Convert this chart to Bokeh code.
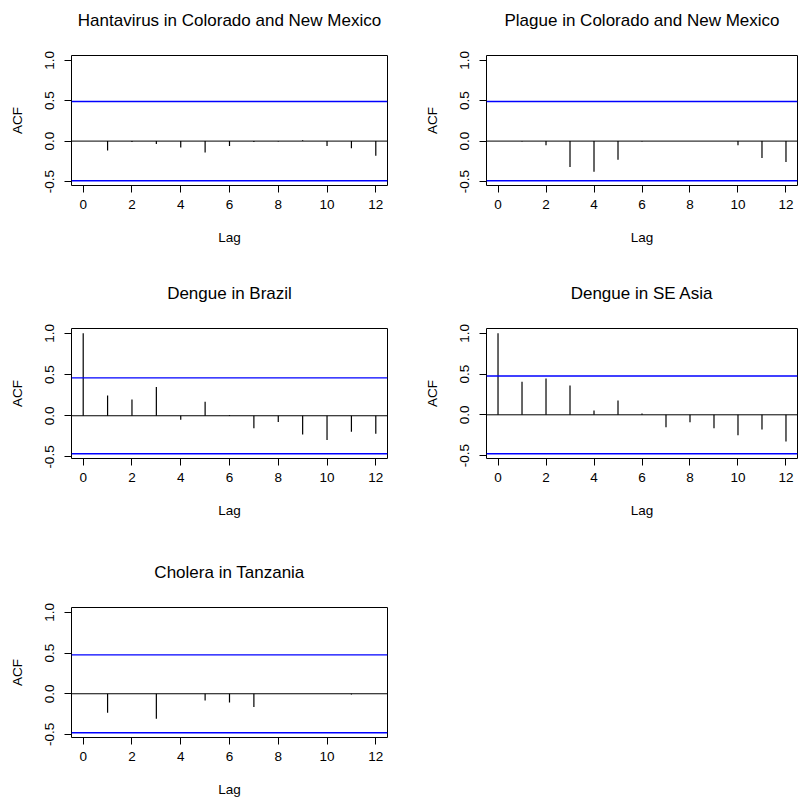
from bokeh.plotting import figure
from bokeh.layouts import gridplot
from bokeh.models import Span, FixedTicker, Range1d, Title
from bokeh.embed import file_html
from bokeh.resources import INLINE

# ---------------- data ----------------
titles = ["Hantavirus in Colorado and New Mexico", "Plague in Colorado and New Mexico",
          "Dengue in Brazil", "Dengue in SE Asia", "Cholera in Tanzania"]

hanta_lags = [1, 2, 3, 4, 5, 6, 7, 8, 9, 10, 11, 12]
hanta_acf = [-0.115, -0.01, -0.035, -0.08, -0.14, -0.06, -0.01, -0.005, 0.01, -0.06, -0.09, -0.18]
hanta_clim = 0.49

plague_lags = [1, 2, 3, 4, 5, 6, 7, 8, 9, 10, 11, 12]
plague_acf = [-0.005, -0.05, -0.32, -0.38, -0.23, -0.005, 0.0, 0.0, 0.0, -0.05, -0.21, -0.26]
plague_clim = 0.49

brazil_lags = [0, 1, 2, 3, 4, 5, 6, 7, 8, 9, 10, 11, 12]
brazil_acf = [1.0, 0.246, 0.198, 0.35, -0.048, 0.17, 0.008, -0.153, -0.077, -0.226, -0.294, -0.194, -0.218]
brazil_clim = 0.46

asia_lags = [0, 1, 2, 3, 4, 5, 6, 7, 8, 9, 10, 11, 12]
asia_acf = [1.0, 0.406, 0.447, 0.36, 0.053, 0.176, 0.016, -0.152, -0.09, -0.164, -0.25, -0.18, -0.328]
asia_clim = 0.477

cholera_lags = [1, 2, 3, 4, 5, 6, 7, 8, 9, 10, 11, 12]
cholera_acf = [-0.234, 0.0, -0.308, 0.0, -0.082, -0.107, -0.164, 0.0, 0.0, 0.0, -0.01, 0.0]
cholera_clim = 0.478

max_lag = 12
acf_lag0 = 1.0  # ACF at lag 0 is always 1 and sets the top of the y scale

x_ticks = [0, 2, 4, 6, 8, 10, 12]
y_ticks = [-0.5, 0.0, 0.5, 1.0]
y_tick_labels = ["-0.5", "0.0", "0.5", "1.0"]

FONT = "Liberation Sans"
TOP = 55
FRAME_H = 130


def make_panel(title, lags, acf, clim, width, height, mb_right):
    lo = min(min(acf), -clim)
    hi = max(max(acf), clim, acf_lag0)
    pad = 0.04 * (hi - lo)
    xpad = 0.04 * max_lag
    p = figure(width=width, height=height, output_backend="svg", toolbar_location=None,
               title=None,
               x_range=Range1d(-xpad, max_lag + xpad), y_range=Range1d(lo - pad, hi + pad),
               min_border_left=71, min_border_right=mb_right, min_border_top=TOP,
               min_border_bottom=height - TOP - FRAME_H)
    p.add_layout(Title(text=title, align="center", vertical_align="bottom",
                       text_font=FONT, text_font_size="17px", text_font_style="normal",
                       text_color="black", standoff=10,
                       padding=dict(top=0, right=0, bottom=21, left=0)), "above")

    p.xgrid.visible = False
    p.ygrid.visible = False
    p.outline_line_color = "black"
    p.outline_line_alpha = 1.0
    p.outline_line_width = 1
    p.background_fill_color = "white"
    p.border_fill_color = "white"

    for ax in (p.xaxis[0], p.yaxis[0]):
        ax.axis_line_color = None
        ax.major_tick_line_color = "black"
        ax.major_tick_out = 7
        ax.major_tick_in = 0
        ax.minor_tick_line_color = None
        ax.major_label_text_font = FONT
        ax.major_label_text_font_size = "13.5px"
        ax.major_label_text_color = "black"
        ax.axis_label_text_font = FONT
        ax.axis_label_text_font_size = "13.5px"
        ax.axis_label_text_font_style = "normal"
        ax.axis_label_text_color = "black"

    p.xaxis.ticker = FixedTicker(ticks=x_ticks)
    p.xaxis.axis_label = "Lag"
    p.xaxis.major_label_standoff = 7
    p.xaxis.axis_label_standoff = 18

    p.yaxis.ticker = FixedTicker(ticks=y_ticks)
    p.yaxis.major_label_overrides = {t: s for t, s in zip(y_ticks, y_tick_labels)}
    p.yaxis.major_label_orientation = "vertical"
    p.yaxis.axis_label = "ACF"
    p.yaxis.major_label_standoff = 10
    p.yaxis.axis_label_standoff = 18

    p.add_layout(Span(location=0, dimension="width", line_color="black", line_width=1))
    p.add_layout(Span(location=clim, dimension="width", line_color="#0000FF", line_width=1.4))
    p.add_layout(Span(location=-clim, dimension="width", line_color="#0000FF", line_width=1.4))

    p.segment(x0=lags, y0=[0] * len(lags), x1=lags, y1=acf, line_color="black", line_width=1.2)
    return p


W_L, W_R = 415, 384
H1, H2, H3 = 273, 279, 249

p1 = make_panel(titles[0], hanta_lags, hanta_acf, hanta_clim, W_L, H1, 28)
p2 = make_panel(titles[1], plague_lags, plague_acf, plague_clim, W_R, H1, 2)
p3 = make_panel(titles[2], brazil_lags, brazil_acf, brazil_clim, W_L, H2, 28)
p4 = make_panel(titles[3], asia_lags, asia_acf, asia_clim, W_R, H2, 2)
p5 = make_panel(titles[4], cholera_lags, cholera_acf, cholera_clim, W_L, H3, 28)

grid = gridplot([[p1, p2], [p3, p4], [p5, None]], toolbar_location=None)

open("out.html", "w").write(file_html(grid, INLINE))
